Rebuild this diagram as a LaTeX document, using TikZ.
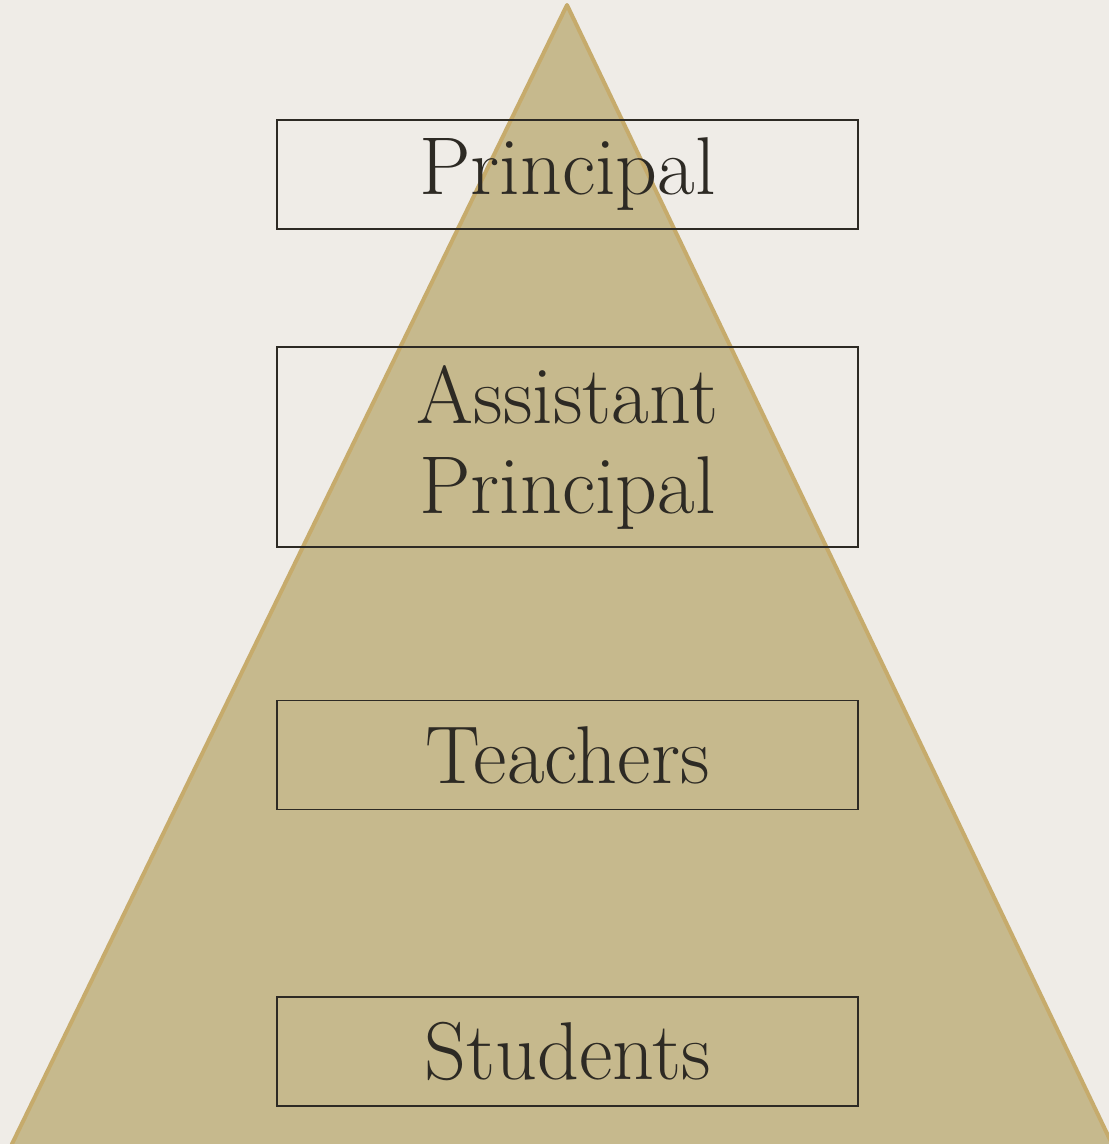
\documentclass[tikz,border=0pt]{standalone}
\usetikzlibrary{positioning}
\definecolor{paper}{HTML}{EFECE7}
\definecolor{sand}{HTML}{C6B98D}
\definecolor{gold}{HTML}{C6AB6C}
\definecolor{ink}{HTML}{2D2A24}
\begin{document}
\begin{tikzpicture}[x=1pt, y=-1pt,
	level/.style={draw=ink, line width=1.5pt, minimum width=581pt, inner sep=0pt, text=ink, align=center,
		font=\fontsize{82}{90}\selectfont}]
	%background
	\fill[paper] (0,0) rectangle (1109,1144);
	\useasboundingbox (0,0) rectangle (1109,1144);
	
	%pyramid
	\coordinate (apex) at (567,5);
	\coordinate (bl) at (11,1146);
	\coordinate (br) at (1113,1146);
	\filldraw[fill=sand, draw=gold, line width=4pt, line join=round] (bl) -- (apex) -- (br) -- cycle;
	
	%levels
	\node[level, minimum height=109pt] (principal) at (567.5, 174.5){Principal};
	\node[level, minimum height=200pt] (assistant) at (567.5, 447){Assistant\\Principal};
	\node[level, minimum height=109pt] (teachers) at (567.5, 755){Teachers};
	\node[level, minimum height=109pt] (students) at (567.5, 1051.5){Students};
\end{tikzpicture}
\end{document}
